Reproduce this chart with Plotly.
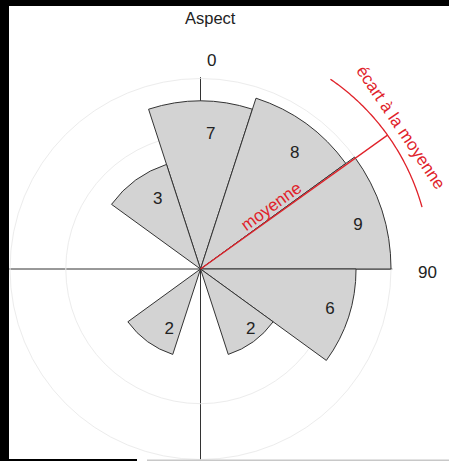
import math
import plotly.graph_objects as go

# ---- data ----
bin_centers = [0, 36, 72, 108, 144, 180, 216, 252, 288, 324]   # degrees, bin width 36
counts = [7, 8, 9, 6, 2, 0, 2, 0, 0, 3]
bin_width = 36
mean_direction = 54.4      # degrees (red "moyenne" line)
mean_spread = 20           # +/- degrees (red "écart à la moyenne" arc)
grid_counts = [4.5, 9]     # faint grid circles (counts)

# ---- label placement (style, not data) ----
label_theta = [4.4, 39.2, 74.7, 107.6, 140.4, 207.3, 328.4]
label_rfrac = [0.80, 0.83, 0.857, 0.873, 0.88, 0.76, 0.74]

W, H = 449, 461
CX, CY = 200.5, 269.0
PX3 = 190.5                 # pixel radius of r = 3 (count 9)
RMAX = 3.02
PR = PX3 * RMAX / 3.0       # pixel radius of the polar disc
ARC_PX = 230.0

def paper(xp, yp):
    return xp / W, 1 - yp / H

def polar_paper(theta_deg, r_px):
    t = math.radians(theta_deg)
    return paper(CX + r_px * math.sin(t), CY - r_px * math.cos(t))

RED = "#e0222a"
TXT = "#222222"
FONT = "Liberation Sans, Arial, sans-serif"

nz = [(t, c) for t, c in zip(bin_centers, counts) if c > 0]
r_bar = [math.sqrt(c) for _, c in nz]
th_bar = [t for t, _ in nz]

fig = go.Figure()
fig.add_trace(go.Barpolar(
    r=r_bar, theta=th_bar, width=[bin_width] * len(nz),
    marker=dict(color="#d3d3d3", line=dict(color="#333333", width=1)),
    hoverinfo="skip", showlegend=False,
))

fig.add_trace(go.Scatterpolar(
    r=[f * math.sqrt(c) for f, (_, c) in zip(label_rfrac, nz)],
    theta=label_theta,
    mode="text",
    text=[str(c) for _, c in nz],
    textfont=dict(size=17, color=TXT, family=FONT),
    textposition="middle center",
    showlegend=False, hoverinfo="skip",
))

fig.update_layout(
    width=W, height=H,
    margin=dict(l=0, r=0, t=0, b=0),
    paper_bgcolor="white",
    showlegend=False,
    polar=dict(
        domain=dict(x=[(CX - PR) / W, (CX + PR) / W],
                    y=[max(0, 1 - (CY + PR) / H), 1 - (CY - PR) / H]),
        bgcolor="rgba(0,0,0,0)",
        angularaxis=dict(direction="clockwise", rotation=90,
                         tickvals=[0, 90, 180, 270], showticklabels=False, ticks="",
                         showgrid=True, gridcolor="#333333", gridwidth=1,
                         showline=False),
        radialaxis=dict(range=[0, RMAX], tickvals=[math.sqrt(g) for g in grid_counts],
                        showticklabels=False, ticks="", showline=False,
                        showgrid=True, gridcolor="#ececec", gridwidth=1),
    ),
)

ann = []
def add_text(text, xp, yp, size, color=TXT, angle=0):
    x, y = paper(xp, yp)
    ann.append(dict(text=text, x=x, y=y, xref="paper", yref="paper",
                    xanchor="center", yanchor="middle", showarrow=False,
                    textangle=angle, font=dict(size=size, color=color, family=FONT)))

add_text("Aspect", 210, 18, 16.5)
add_text("0", 211.5, 61, 17)
add_text("90", 427, 272, 17)
add_text("moyenne", 271, 206, 17, RED, -36)
add_text("écart à la moyenne", 401, 127, 17, RED, 56)
fig.update_layout(annotations=ann)

# red mean line and spread arc (drawn in paper space so they may leave the polar disc)
x0, y0 = polar_paper(mean_direction, 0)
x1, y1 = polar_paper(mean_direction, ARC_PX)
pts = [polar_paper(mean_direction - mean_spread + i * 0.5, ARC_PX)
       for i in range(int(4 * mean_spread) + 1)]
arc_path = "M " + " L ".join(f"{x:.5f},{y:.5f}" for x, y in pts)

shapes = [
    dict(type="line", xref="paper", yref="paper", x0=x0, y0=y0, x1=x1, y1=y1,
         line=dict(color=RED, width=1.3), layer="above"),
    dict(type="path", xref="paper", yref="paper", path=arc_path,
         line=dict(color=RED, width=1.3), layer="above"),
    # screenshot border artefacts
    dict(type="rect", xref="paper", yref="paper", x0=0, x1=1, y0=1 - 6 / H, y1=1,
         fillcolor="black", line=dict(width=0), layer="above"),
    dict(type="rect", xref="paper", yref="paper", x0=0, x1=9 / W, y0=0, y1=1,
         fillcolor="black", line=dict(width=0), layer="above"),
    dict(type="rect", xref="paper", yref="paper", x0=0, x1=137 / W, y0=0, y1=2 / H,
         fillcolor="black", line=dict(width=0), layer="above"),
    dict(type="rect", xref="paper", yref="paper", x0=147 / W, x1=1, y0=0, y1=1.5 / H,
         fillcolor="#c8c8c8", line=dict(width=0), layer="above"),
]
fig.update_layout(shapes=shapes)

fig.write_html("out.html",
               config={"displayModeBar": False},
               post_script="document.body.style.margin='0px';document.body.style.overflow='hidden';")
